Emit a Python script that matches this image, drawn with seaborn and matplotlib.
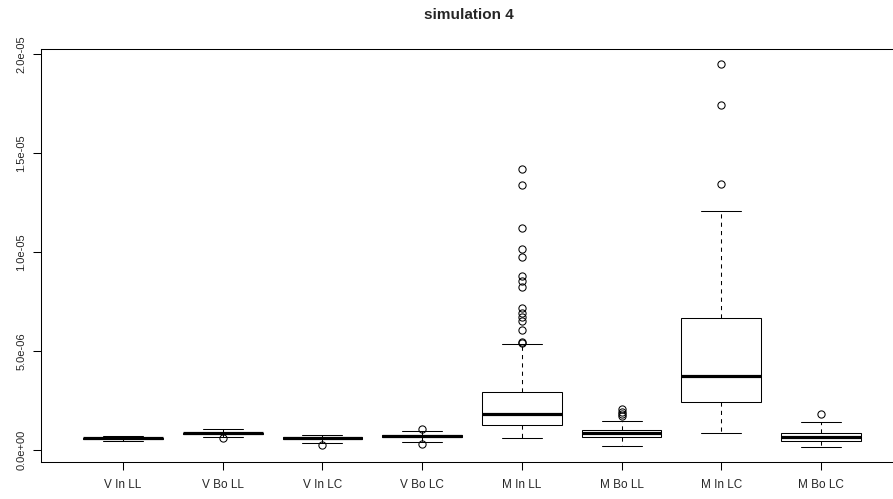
import matplotlib
matplotlib.use("Agg")
import matplotlib.pyplot as plt
import seaborn as sns

# ==================================================
# DATA (five-number summaries)
# ==================================================

groups = ["V In LL", "V Bo LL", "V In LC", "V Bo LC",
          "M In LL", "M Bo LL", "M In LC", "M Bo LC"]

whislo = [4.4e-7, 6.6e-7, 3.4e-7, 4.0e-7, 6.0e-7, 1.9e-7, 8.7e-7, 1.5e-7]
q1 = [5.5e-7, 8.0e-7, 5.8e-7, 6.8e-7, 1.26e-6, 6.4e-7, 2.44e-6, 4.7e-7]
med = [5.9e-7, 8.4e-7, 6.2e-7, 7.2e-7, 1.82e-6, 8.4e-7, 3.74e-6, 6.4e-7]
q3 = [6.3e-7, 8.8e-7, 6.6e-7, 7.6e-7, 2.93e-6, 1.01e-6, 6.65e-6, 8.4e-7]
whishi = [7.2e-7, 1.06e-6, 7.7e-7, 9.4e-7, 5.35e-6, 1.45e-6, 1.205e-5, 1.4e-6]

fliers = [
    [],
    [5.9e-7],
    [2.7e-7],
    [1.05e-6, 3.0e-7],
    [1.419e-5, 1.337e-5, 1.123e-5, 1.014e-5, 9.76e-6, 8.80e-6, 8.54e-6,
     8.25e-6, 7.16e-6, 6.90e-6, 6.70e-6, 6.52e-6, 6.06e-6, 5.47e-6, 5.38e-6],
    [2.05e-6, 1.92e-6, 1.80e-6, 1.72e-6],
    [1.948e-5, 1.741e-5, 1.342e-5],
    [1.8e-6],
]

ytick_vals = [0, 5e-6, 1e-5, 1.5e-5, 2e-5]
ytick_labels = ["0.0e+00", "5.0e-06", "1.0e-05", "1.5e-05", "2.0e-05"]

TITLE = "simulation 4"

# ==================================================
# STYLE
# ==================================================

sns.set_theme(style="white")
plt.rcParams["font.family"] = ["Liberation Sans", "DejaVu Sans"]

stats = []
for i, g in enumerate(groups):
    stats.append(dict(
        label=g,
        whislo=whislo[i],
        q1=q1[i],
        med=med[i],
        q3=q3[i],
        whishi=whishi[i],
        fliers=fliers[i],
    ))

# ==================================================
# PLOT
# ==================================================

fig = plt.figure(figsize=(8.93, 4.99), dpi=100)
# plot region runs past the right edge of the canvas, as in the original
ax = fig.add_axes([41 / 893, 37 / 499, 862 / 893, 413 / 499])

lw = 0.75

ax.bxp(
    stats,
    positions=range(1, len(groups) + 1),
    widths=0.8,
    capwidths=0.4,
    patch_artist=True,
    boxprops=dict(facecolor="white", edgecolor="black", linewidth=lw),
    medianprops=dict(color="black", linewidth=2.3, solid_capstyle="butt"),
    whiskerprops=dict(color="black", linewidth=lw, linestyle=(0, (4, 4))),
    capprops=dict(color="black", linewidth=lw),
    flierprops=dict(marker="o", markerfacecolor="none",
                    markeredgecolor="black", markersize=5.2,
                    markeredgewidth=lw),
)

ax.set_xlim(0.178, 8.822)
ax.set_ylim(-6.06e-7, 2.0253e-5)

ax.set_xticks(range(1, len(groups) + 1))
ax.set_xticklabels(groups, fontsize=8.5)
ax.set_yticks(ytick_vals)
ax.set_yticklabels(ytick_labels, rotation=90, va="center", fontsize=8)

ax.tick_params(axis="both", direction="out", length=5.5, width=lw,
               color="black", bottom=True, left=True)
ax.tick_params(axis="x", pad=7)
ax.tick_params(axis="y", pad=5)

for spine in ax.spines.values():
    spine.set_color("black")
    spine.set_linewidth(lw)
ax.spines["right"].set_visible(False)

fig.text(469 / 893, 1 - 15 / 499, TITLE, ha="center", va="center",
         fontsize=11, fontweight="bold")

fig.savefig("out.png", dpi=100)
